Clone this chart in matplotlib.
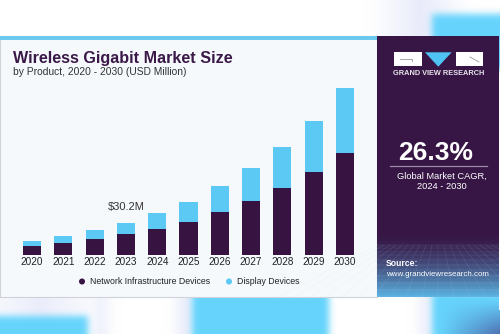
import numpy as np
import matplotlib
matplotlib.use("Agg")
import matplotlib.pyplot as plt
from matplotlib.patches import Rectangle, Polygon, Circle

plt.rcParams['font.family'] = ['Liberation Sans', 'DejaVu Sans']

# market size by product, USD million
years = ["2020", "2021", "2022", "2023", "2024", "2025", "2026", "2027", "2028", "2029", "2030"]
network = [8.1, 11.0, 14.6, 19.7, 24.7, 31.4, 40.7, 51.0, 63.5, 79.1, 97.6]
display = [5.1, 6.7, 8.9, 10.5, 15.4, 18.9, 24.5, 31.9, 39.6, 49.2, 61.7]
series_names = ["Network Infrastructure Devices", "Display Devices"]
highlight_year = "2023"

DARK = "#361341"
LIGHT = "#5cc9f5"
CARD = "#f5f9fc"
W, H = 500, 334

fig = plt.figure(figsize=(5, 3.34), dpi=100)

# ---- soft backdrop behind the card ----
bg = np.ones((H, W, 3))
blue = np.array([0.40, 0.83, 0.99])
lav = np.array([0.91, 0.92, 0.98])
yy, xx = np.mgrid[0:H, 0:W]
# lavender haze
haze = np.clip(1 - np.abs(xx - 420) / 50, 0, 1) * (yy < 60)
haze = np.maximum(haze, np.clip(1 - np.abs(xx - 40) / 70, 0, 1) * (yy > 290) * 0.9)
haze = np.maximum(haze, np.clip(1 - np.abs(xx - 185) / 15, 0, 1) * (yy > 290))
haze = np.maximum(haze, np.clip(1 - np.abs(xx - 100) / 15, 0, 1) * (yy > 290) * 0.7)
haze = np.maximum(haze, np.clip(1 - np.abs(xx - 425) / 12, 0, 1) * (yy > 290) * 0.8)
bg = bg * (1 - haze[..., None]) + lav * haze[..., None]
# blue blocks
bg[14:70, 432:] = blue
bg[316:, :88] = blue
bg[290:, 192:329] = blue
bg[290:, 432:] = blue
g = np.clip((yy - 300) / 34, 0, 1) * np.clip((xx - 440) / 60, 0, 1)
dark_blue = np.array([0.30, 0.42, 0.68])
bg = bg * (1 - g[..., None]) + dark_blue * g[..., None]

# gaussian blur, done by separable convolution
k = np.exp(-0.5 * (np.arange(-9, 10) / 3.5) ** 2)
k /= k.sum()
pad = np.pad(bg, ((9, 9), (9, 9), (0, 0)), mode="edge")
for c in range(3):
    tmp = np.apply_along_axis(lambda r: np.convolve(r, k, mode="same"), 1, pad[..., c])
    pad[..., c] = np.apply_along_axis(lambda r: np.convolve(r, k, mode="same"), 0, tmp)
bg = pad[9:-9, 9:-9]

bax = fig.add_axes([0, 0, 1, 1])
bax.set_xlim(0, W)
bax.set_ylim(H, 0)
bax.axis("off")
bax.imshow(bg, extent=[0, W, H, 0], zorder=0, aspect="auto")

# ---- card ----
bax.add_patch(Rectangle((0, 36), 377, 261, facecolor=CARD, edgecolor="#cfd3d8", lw=0.8, zorder=1))
bax.add_patch(Rectangle((0, 36), 377, 3.5, facecolor="#6cc8ec", lw=0, zorder=2))

bax.text(13, 58, "Wireless Gigabit Market Size", fontsize=11.6, fontweight="heavy",
         color="#3a1848", va="center", ha="left", zorder=3)
bax.text(13, 72, "by Product, 2020 - 2030 (USD Million)", fontsize=7.4,
         color="#333333", va="center", ha="left", zorder=3)

# side panel with gradient toward the bottom
panel = np.zeros((100, 1, 3))
top_c = np.array([0x37, 0x16, 0x45]) / 255
bot_c = np.array([0x5a, 0xb0, 0xe0]) / 255
t = np.linspace(0, 1, 100)
ramp = np.clip((t - 0.76) / 0.24, 0, 1) ** 1.5
panel[:, 0, :] = top_c * (1 - ramp[:, None]) + bot_c * ramp[:, None]
bax.imshow(panel, extent=[377, 499, 297, 36], aspect="auto", zorder=1.5)

# faint perspective grid in the lower part of the panel
for i in range(12):
    y = 245 + (i / 11) ** 1.6 * 52
    bax.plot([377, 499], [y, y], color="#b8dcf2", lw=0.35, alpha=0.12 + 0.2 * i / 11, zorder=1.6)
for i in range(-10, 24):
    x0 = 438 + i * 6
    x1 = 438 + i * 16
    bax.plot([x0, x1], [245, 297], color="#b8dcf2", lw=0.35, alpha=0.18, zorder=1.6)
# mask grid outside the panel
bax.add_patch(Rectangle((499, 230), 10, 80, facecolor=bg[260, 499], lw=0, zorder=1.65))

# logo
bax.add_patch(Rectangle((394, 52.3), 27.7, 13.4, facecolor="white", lw=0, zorder=3))
bax.plot([400, 412, 412], [59, 59, 61], color="#9a9a9a", lw=0.6, zorder=3.1)
bax.add_patch(Polygon([(425, 52.3), (451.7, 52.3), (438.3, 66.7)], facecolor="#4fc3f3", lw=0, zorder=3))
bax.add_patch(Rectangle((456, 52.3), 26.7, 13.4, facecolor="white", lw=0, zorder=3))
bax.plot([470, 479], [57, 62], color="#9a9a9a", lw=0.6, zorder=3.1)
bax.text(438.5, 73.5, "GRAND VIEW RESEARCH", fontsize=5.3, fontweight="bold",
         color="#e8e4ee", ha="center", va="center", zorder=3)

bax.text(436, 152.5, "26.3%", fontsize=19, fontweight="bold", color="white",
         ha="center", va="center", zorder=3)
bax.plot([390, 487], [165.7, 165.7], color="#9c8aa8", lw=0.9, zorder=3)
bax.text(442, 176.7, "Global Market CAGR,", fontsize=6.7, color="white", ha="center", va="center", zorder=3)
bax.text(442, 186.7, "2024 - 2030", fontsize=6.7, color="white", ha="center", va="center", zorder=3)
bax.text(386, 264, "Source:", fontsize=6.2, fontweight="bold", color="white", ha="left", va="center", zorder=3)
bax.text(386, 274, "www.grandviewresearch.com", fontsize=5.7, color="white", ha="left", va="center", zorder=3)

# ---- stacked bars ----
px_per_unit = 31.3
baseline = 254.5
m_per_px = 0.9587
ymax = 180
ax = fig.add_axes([(32 - px_per_unit) / W, (H - baseline) / H,
                   12 * px_per_unit / W, ymax / m_per_px / H])
ax.set_xlim(-1, 11)
ax.set_ylim(0, ymax)
ax.axis("off")
ax.patch.set_alpha(0)

x = np.arange(len(years))
ax.bar(x, network, width=0.58, color=DARK, zorder=2)
ax.bar(x, display, bottom=network, width=0.58, color=LIGHT, zorder=2)

hi = years.index(highlight_year)
total = network[hi] + display[hi]
ax.text(hi, total + 15.5, "$%.1fM" % total, fontsize=8, color="#333333",
        ha="center", va="center")

for xi, yr in zip(x, years):
    bax.text(32 + xi * px_per_unit, 262, yr, fontsize=7.2, color="#222222",
             ha="center", va="center", zorder=3)

# legend
bax.add_patch(Circle((82, 281.5), 3.0, facecolor=DARK, lw=0, zorder=3))
bax.text(90, 281, series_names[0], fontsize=6.3, color="#222222", ha="left", va="center", zorder=3)
bax.add_patch(Circle((229, 281.5), 3.0, facecolor=LIGHT, lw=0, zorder=3))
bax.text(237, 281, series_names[1], fontsize=6.3, color="#222222", ha="left", va="center", zorder=3)

fig.savefig("out.png", dpi=100)
